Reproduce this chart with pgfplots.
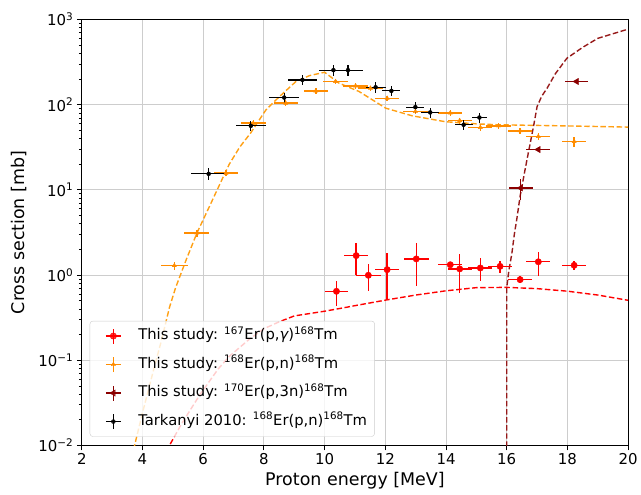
\documentclass[border=0pt]{standalone}
\usepackage{fontspec}
\setmainfont{DejaVu Sans}
\usepackage{pgfplots}
\pgfplotsset{compat=1.18}
\usepackage{pgfplotstable}
\definecolor{cRed}{RGB}{255,0,0}
\definecolor{cOrange}{RGB}{255,140,0}
\definecolor{cOrangeL}{RGB}{255,160,20}
\definecolor{cDark}{RGB}{139,0,0}
\definecolor{cDarkL}{RGB}{150,25,25}
\definecolor{cGrid}{RGB}{205,205,205}

\pgfplotstableread{
x y ex ey
10.39 0.644 0.38 0.21
11.04 1.69 0.40 0.70
11.44 0.993 0.42 0.35
12.06 1.156 0.40 0.65
13.02 1.545 0.41 0.80
14.14 1.32 0.40 0.05
14.45 1.18 0.40 0.57
15.13 1.21 0.40 0.36
15.78 1.265 0.40 0.20
16.44 0.883 0.40 0.08
17.04 1.43 0.40 0.45
18.22 1.30 0.40 0.15
}\redpts

\pgfplotstableread{
x y ex ey
5.05 1.29 0.45 0.15
5.79 3.11 0.41 0.30
6.75 15.7 0.40 1.3
7.65 60.7 0.41 5
8.72 104 0.40 8
9.71 145 0.39 10
10.36 187 0.41 13
11.02 166 0.40 12
11.51 156 0.40 11
12.06 119 0.40 9
12.99 83 0.40 6
14.14 80 0.40 6
14.45 65 0.40 5
15.13 54 0.40 5
15.73 56.4 0.40 5
16.44 49.3 0.40 4
17.04 42.3 0.40 4
18.22 37 0.40 5
}\orangepts

\pgfplotstableread{
x y ex ey
16.46 10.5 0.40 3.0
17.04 29.7 0.40 2.0
18.30 187 0.39 8
}\darkpts

\pgfplotstableread{
x y ex ey
6.18 15.4 0.57 2.4
7.57 56.4 0.49 8
8.67 121 0.49 17
9.27 195 0.49 27
10.29 254 0.49 35
10.77 254 0.49 35
11.68 160 0.33 22
12.20 145 0.30 20
12.99 93.5 0.30 13
13.48 81 0.30 11
14.58 58 0.30 8
15.10 70.6 0.25 10
}\blackpts

\pgfplotstableread{
x y
4.80 0.00851
4.89 0.0100
5.30 0.0182
5.90 0.0398
6.50 0.0794
6.86 0.111
7.50 0.174
8.00 0.234
8.50 0.282
9.00 0.331
10.0 0.376
10.7 0.417
11.0 0.437
12.0 0.507
13.0 0.582
14.0 0.653
15.0 0.711
16.0 0.716
17.0 0.692
18.0 0.646
19.0 0.582
20.0 0.505
}\redcurve

\pgfplotstableread{
x y
3.65 0.0072
3.74 0.0100
4.00 0.0240
4.34 0.0708
4.60 0.158
4.89 0.417
5.09 0.708
5.44 1.51
5.79 3.09
6.20 6.31
6.64 13.7
6.86 20
7.20 31.6
7.57 46.8
8.07 87.1
8.50 123
9.05 186
9.50 219
10.0 240
10.47 179
11.13 143
12.01 91
12.88 74
13.98 63
15.00 59.5
15.73 58
17.70 56.5
20.0 54.5
}\orangecurve

\pgfplotstableread{
x y
16.00 0.005
16.00 0.7
16.05 1.0
16.10 1.3
16.17 1.8
16.25 3.0
16.33 4.5
16.44 8.4
16.60 17
16.75 32
16.88 55
17.00 95
17.15 125
17.33 156
17.60 230
17.98 350
18.50 470
19.00 600
19.50 680
20.00 770
}\darkcurve

\pgfplotsset{
  ebcross/.style={
    legend image code/.code={
      \path[draw=none,fill=none] (0pt,-7.5pt) rectangle (41pt,7.5pt);
      \draw[##1,mark=none,solid,line width=1.4pt] (10.5pt,0pt) -- (25.5pt,0pt);
      \draw[##1,mark=none,solid,line width=1.4pt] (18pt,-7.5pt) -- (18pt,7.5pt);
      \draw[##1] plot coordinates {(18pt,0pt)};
    }
  }
}

\begin{document}
\begin{tikzpicture}
\begin{axis}[
  at={(0,0)}, anchor=south west,
  scale only axis, width=548pt, height=427.2pt,
  xmin=2, xmax=20, ymode=log, ymin=1e-2, ymax=1e3,
  xtick={2,4,6,8,10,12,14,16,18,20},
  xticklabels={2,4,6,8,10,12,14,16,18,20},
  ytick={1e-2,1e-1,1,10,100,1000},
  yticklabels={10\textsuperscript{−2},10\textsuperscript{−1},10\textsuperscript{0},10\textsuperscript{1},10\textsuperscript{2},10\textsuperscript{3}},
  minor ytick={0.02,0.03,0.04,0.05,0.06,0.07,0.08,0.09,0.2,0.3,0.4,0.5,0.6,0.7,0.8,0.9,2,3,4,5,6,7,8,9,20,30,40,50,60,70,80,90,200,300,400,500,600,700,800,900},
  grid=major,
  major grid style={cGrid, line width=0.9pt},
  axis line style={black, line width=0.9pt},
  tick align=outside,
  xtick pos=left, ytick pos=left,
  major tick length=4.9pt, minor tick length=2.8pt,
  tick style={black, line width=0.8pt},
  minor tick style={black, line width=0.6pt},
  tick label style={font=\fontsize{15}{18}\selectfont},
  clip=true,
  legend cell align=left,
  legend style={
    at={(8/548,8.7/427.2)}, anchor=south west,
    font=\fontsize{14.8}{17}\selectfont,
    draw=black!20, rounded corners=3pt,
    fill=white, fill opacity=0.8, text opacity=1, draw opacity=1,
    inner sep=5.5pt, row sep=9.6pt,
    nodes={inner sep=2pt, text height=11pt, text depth=4pt}
  },
  error bars/error bar style={line width=1.4pt},
]
% model curves
\addplot[forget plot, cOrangeL, line width=1.4pt, dash pattern=on 5.5pt off 2.6pt] table[x=x,y=y]{\orangecurve};
\addplot[forget plot, cRed, line width=1.4pt, dash pattern=on 5.5pt off 2.6pt] table[x=x,y=y]{\redcurve};
\addplot[forget plot, cDarkL, line width=1.4pt, dash pattern=on 5.5pt off 2.6pt] table[x=x,y=y]{\darkcurve};

% data
\addplot[ebcross, only marks, mark=*, mark size=3.2pt, color=cRed,
  error bars/.cd, x dir=both, x explicit, y dir=both, y explicit, error mark=none]
  table[x=x,y=y,x error=ex,y error=ey]{\redpts};
\addlegendentry{This study: \textsuperscript{167}Er(p,{\itshape γ})\textsuperscript{168}Tm}

\addplot[ebcross, only marks, mark=triangle*, mark size=2.4pt, color=cOrange,
  error bars/.cd, x dir=both, x explicit, y dir=both, y explicit, error mark=none]
  table[x=x,y=y,x error=ex,y error=ey]{\orangepts};
\addlegendentry{This study: \textsuperscript{168}Er(p,n)\textsuperscript{168}Tm}

\addplot[ebcross, only marks, mark=triangle*, mark size=3.6pt, mark options={rotate=90}, color=cDark,
  error bars/.cd, x dir=both, x explicit, y dir=both, y explicit, error mark=none]
  table[x=x,y=y,x error=ex,y error=ey]{\darkpts};
\addlegendentry{This study: \textsuperscript{170}Er(p,3n)\textsuperscript{168}Tm}

\addplot[ebcross, only marks, mark=none, color=black,
  error bars/.cd, x dir=both, x explicit, y dir=both, y explicit, error mark=none,
  error bar style={line width=1.2pt}]
  table[x=x,y=y,x error=ex,y error=ey]{\blackpts};
\addlegendentry{Tarkanyi 2010: \textsuperscript{168}Er(p,n)\textsuperscript{168}Tm}
\end{axis}
\node[anchor=base, font=\fontsize{17.5}{20}\selectfont] at (274pt,-40.3pt) {Proton energy [MeV]};
\node[rotate=90, anchor=center, font=\fontsize{17.5}{20}\selectfont] at (-63pt,213.6pt) {Cross section [mb]};
\path (-82pt,-49.3pt) rectangle (559pt,446.7pt);
\end{tikzpicture}
\end{document}
